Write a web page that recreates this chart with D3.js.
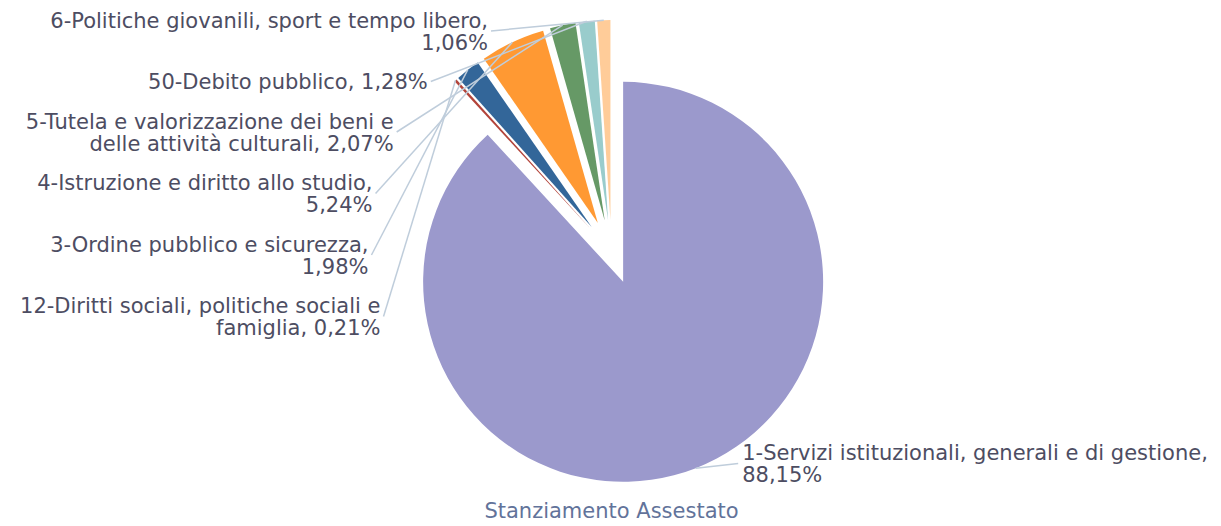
<!DOCTYPE html>
<html>
<head>
<meta charset="utf-8">
<script src="https://cdn.jsdelivr.net/npm/d3@7"></script>
<style>
    html, body { margin: 0; padding: 0; background: #fff; }
    svg { display: block; }
</style>
</head>
<body>
<svg id="viz"></svg>
<script>
// Spese per missione - Stanziamento Assestato

const categorie = [
    '1-Servizi istituzionali, generali e di gestione',
    '12-Diritti sociali, politiche sociali e famiglia',
    '3-Ordine pubblico e sicurezza',
    '4-Istruzione e diritto allo studio',
    '5-Tutela e valorizzazione dei beni e delle attività culturali',
    '50-Debito pubblico',
    '6-Politiche giovanili, sport e tempo libero'
];
const percentuali = [88.15, 0.21, 1.98, 5.24, 2.07, 1.28, 1.06];
const colori = ['#9b99cc', '#b3443a', '#336699', '#ff9933', '#669966', '#99cccc', '#ffcc99'];
const titolo = 'Stanziamento Assestato';

const width = 1221;
const height = 526;
const cx = 611.5;
const cy = 252;
const raggio = 200;
const esplodi = 32;

const fontSize = 21;
const lineH = 22;
const gap = 17.5;
const capH = 15.3;

// cerchio su cui stanno le etichette
const lcx = 611;
const lcy = 240;
const lr = 240;

const svg = d3.select('#viz')
    .attr('width', width)
    .attr('height', height);

const dati = categorie.map((c, i) => ({ nome: c, valore: percentuali[i], colore: colori[i] }));

const pie = d3.pie()
    .value((d) => d.valore)
    .sort(null)
    .startAngle(0);

const arc = d3.arc()
    .innerRadius(0)
    .outerRadius(raggio);

const archi = pie(dati);
const fmt = (v) => d3.format('.2f')(v).replace('.', ',') + '%';

function mezzo(d) {
    return (d.startAngle + d.endAngle) / 2;
}

// Fette
const g = svg.append('g').attr('transform', `translate(${cx},${cy})`);

g.selectAll('path')
    .data(archi)
    .enter()
    .append('path')
    .attr('d', arc)
    .attr('fill', (d) => d.data.colore)
    .attr('transform', (d) => {
        const a = mezzo(d);
        return `translate(${Math.sin(a) * esplodi},${-Math.cos(a) * esplodi})`;
    });

// Misura del testo per andare a capo
const misura = svg.append('text')
    .style('font-family', 'DejaVu Sans')
    .style('font-size', fontSize + 'px');

function larghezza(s) {
    misura.text(s);
    return misura.node().getComputedTextLength();
}

function aCapo(testo, maxW) {
    const parole = testo.split(' ');
    const righe = [];
    let riga = '';
    parole.forEach((p) => {
        const prova = riga ? riga + ' ' + p : p;
        if (riga && larghezza(prova) > maxW) {
            righe.push(riga);
            riga = p;
        } else {
            riga = prova;
        }
    });
    righe.push(riga);
    return righe;
}

const etichette = archi.map((d) => {
    const a = mezzo(d);
    return {
        arco: d,
        a: a,
        sinistra: a > Math.PI,
        testo: `${d.data.nome}, ${fmt(d.data.valore)}`,
        righe: [''],
        naturale: lcy - lr * Math.cos(a)
    };
});

function disponi() {
    [true, false].forEach((lato) => {
        const gruppo = etichette.filter((e) => e.sinistra === lato)
            .sort((x, y) => x.naturale - y.naturale);
        let y = 9;
        gruppo.forEach((e) => {
            const h = e.righe.length * lineH;
            const top = Math.max(e.naturale - h / 2, y);
            e.mid = top + h / 2;
            y = top + h + gap;
            const dy = e.mid - lcy;
            const dx = Math.abs(dy) < lr ? Math.sqrt(lr * lr - dy * dy) : 0;
            // a destra l'etichetta resta un po' più staccata
            const off = Math.max(dx, lr * (lato ? 0.5 : 0.53));
            e.x = lato ? lcx - off : lcx + off;
        });
    });
}

for (let k = 0; k < 3; k++) {
    disponi();
    etichette.forEach((e) => {
        const maxW = e.sinistra ? e.x - 7 : width - e.x - 7;
        e.righe = aCapo(e.testo, maxW);
    });
}
disponi();
misura.remove();

// Linee di collegamento
svg.append('g')
    .selectAll('line')
    .data(etichette)
    .enter()
    .append('line')
    .attr('x1', (e) => e.x)
    .attr('y1', (e) => e.mid)
    .attr('x2', (e) => cx + Math.sin(e.a) * (raggio + esplodi))
    .attr('y2', (e) => cy - Math.cos(e.a) * (raggio + esplodi))
    .attr('stroke', '#bfcddb')
    .attr('stroke-width', 1.5);

// Etichette
const testi = svg.append('g')
    .selectAll('text')
    .data(etichette)
    .enter()
    .append('text')
    .attr('x', (e) => e.sinistra ? e.x - 3 : e.x + 4)
    .attr('y', (e) => e.mid - (e.righe.length - 1) * lineH / 2 + capH / 2)
    .attr('text-anchor', (e) => e.sinistra ? 'end' : 'start')
    .style('font-family', 'DejaVu Sans')
    .style('font-size', fontSize + 'px')
    .style('fill', '#4d4d62');

testi.selectAll('tspan')
    .data((e) => e.righe.map((r) => ({ r: r, e: e })))
    .enter()
    .append('tspan')
    .attr('x', (d) => d.e.sinistra ? d.e.x - 3 : d.e.x + 4)
    .attr('dy', (d, i) => i === 0 ? 0 : lineH)
    .text((d) => d.r);

// Titolo
svg.append('text')
    .attr('x', cx)
    .attr('y', 518)
    .attr('text-anchor', 'middle')
    .style('font-family', 'DejaVu Sans')
    .style('font-size', fontSize + 'px')
    .style('fill', '#62739a')
    .text(titolo);
</script>
</body>
</html>
